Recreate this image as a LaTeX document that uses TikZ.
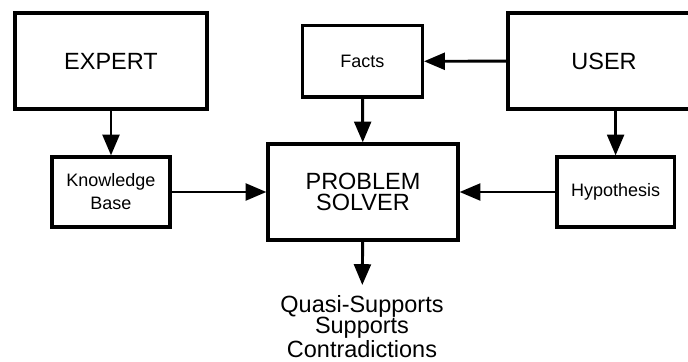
\documentclass[tikz,border=0pt]{standalone}
\usepackage{fontspec}
\setmainfont{Liberation Sans}
\usetikzlibrary{arrows.meta}

\begin{document}
\begin{tikzpicture}[x=1cm,y=1cm,
  bigbox/.style={draw,rectangle,line width=2.3pt,align=center,font=\fontsize{16.7}{15.4}\selectfont},
  smallbox/.style={draw,rectangle,line width=2.3pt,align=center,font=\fontsize{12.8}{16.4}\selectfont},
  conn/.style={line width=2.1pt,-{Triangle[length=0.52cm,width=0.42cm]}}]

\useasboundingbox (0,0) rectangle (17.2,9.025);

\node (expert) at (2.775,7.5) [bigbox,minimum width=4.8cm,minimum height=2.4cm] {EXPERT};
\node (user) at (15.1,7.5) [bigbox,minimum width=4.8cm,minimum height=2.4cm] {USER};
\node (facts) at (9.06,7.49) [smallbox,minimum width=3cm,minimum height=1.78cm] {Facts};

\node (kb) at (2.775,4.225) [smallbox,minimum width=2.95cm,minimum height=1.75cm] {Knowledge\\Base};
\node (ps) at (9.075,4.225) [bigbox,minimum width=4.75cm,minimum height=2.4cm] {PROBLEM\\SOLVER};
\node (hyp) at (15.39,4.225) [smallbox,minimum width=2.93cm,minimum height=1.75cm] {Hypothesis};

\node (out) at (9.05,1.9) [anchor=north,inner sep=0.25cm,align=center,font=\fontsize{16.7}{15.4}\selectfont] {Quasi-Supports\\Supports\\Contradictions};

\coordinate (userfoot) at (hyp |- user.south);

\draw [conn] (expert) -- (kb);
\draw [conn] (user) -- (facts);
\draw [conn] (facts) -- (ps);
\draw [conn] (userfoot) -- (hyp);
\draw [conn] (kb) -- (ps);
\draw [conn] (hyp) -- (ps);
\draw [conn] (ps) -- (out);

\end{tikzpicture}
\end{document}
